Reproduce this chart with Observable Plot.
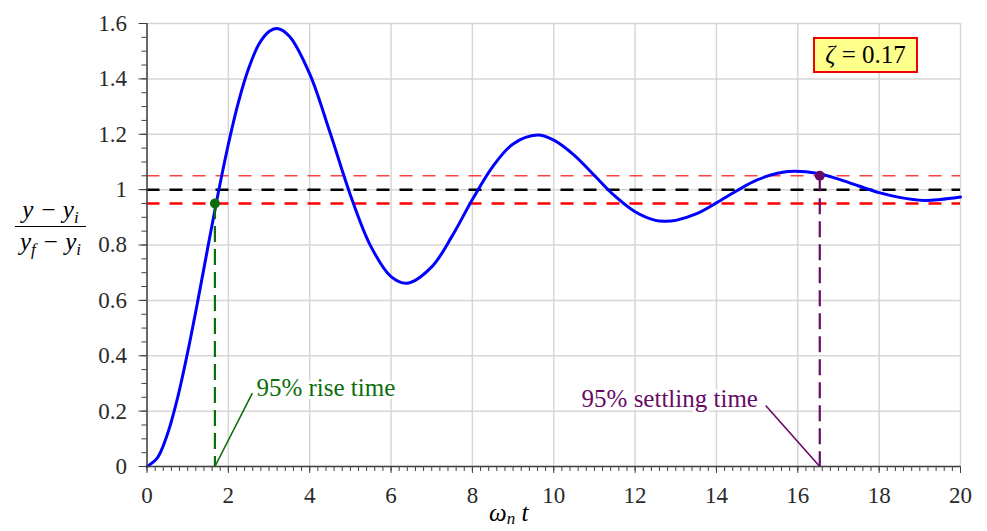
<!DOCTYPE html>
<html><head><meta charset="utf-8">
<script src="https://cdn.jsdelivr.net/npm/d3@7"></script>
<script src="https://cdn.jsdelivr.net/npm/@observablehq/plot@0.6"></script>
<style>
html,body{margin:0;padding:0;background:#fff;}
#wrap{position:relative;width:987px;height:531px;font-family:"Liberation Serif","Times New Roman",serif;}
.ov{position:absolute;white-space:nowrap;color:#000;font-family:"Liberation Serif","Times New Roman",serif;}
.ov sub{font-size:0.68em;vertical-align:-0.28em;line-height:0;}
</style></head><body>
<div id="wrap"></div>
<script>
// response curve: time (ωn t) and normalized output
const tValues = [0,0.25,0.5,0.75,1,1.25,1.5,1.75,2,2.25,2.5,2.75,3,3.2,3.5,4,4.5,5,5.5,6,6.4,7,7.5,8,8.5,9,9.6,10,10.5,11,11.5,12,12.5,12.75,13,13.5,14,14.5,15,15.5,15.9,16.5,17,17.5,18,18.5,19.1,19.5,20];
const yValues = [0,0.030,0.116,0.247,0.413,0.599,0.795,0.987,1.164,1.317,1.438,1.525,1.571,1.582,1.554,1.418,1.206,0.981,0.796,0.686,0.662,0.721,0.832,0.964,1.083,1.165,1.197,1.179,1.125,1.051,0.977,0.920,0.889,0.886,0.889,0.912,0.952,0.996,1.035,1.059,1.066,1.058,1.038,1.013,0.989,0.972,0.961,0.964,0.973];
const xMajorTicks = [0,2,4,6,8,10,12,14,16,18,20];
const yMajorTicks = [0,0.2,0.4,0.6,0.8,1,1.2,1.4,1.6];
const xMinorTicks = [0,0.2,0.4,0.6,0.8,1,1.2,1.4,1.6,1.8,2,2.2,2.4,2.6,2.8,3,3.2,3.4,3.6,3.8,4,4.2,4.4,4.6,4.8,5,5.2,5.4,5.6,5.8,6,6.2,6.4,6.6,6.8,7,7.2,7.4,7.6,7.8,8,8.2,8.4,8.6,8.8,9,9.2,9.4,9.6,9.8,10,10.2,10.4,10.6,10.8,11,11.2,11.4,11.6,11.8,12,12.2,12.4,12.6,12.8,13,13.2,13.4,13.6,13.8,14,14.2,14.4,14.6,14.8,15,15.2,15.4,15.6,15.8,16,16.2,16.4,16.6,16.8,17,17.2,17.4,17.6,17.8,18,18.2,18.4,18.6,18.8,19,19.2,19.4,19.6,19.8,20];
const yMinorTicks = [0,0.05,0.1,0.15,0.2,0.25,0.3,0.35,0.4,0.45,0.5,0.55,0.6,0.65,0.7,0.75,0.8,0.85,0.9,0.95,1,1.05,1.1,1.15,1.2,1.25,1.3,1.35,1.4,1.45,1.5,1.55,1.6];
const bandLower = 0.95, finalValue = 1, bandUpper = 1.05;
const riseTime = 1.67, riseLevel = 0.95;
const settlingTime = 16.54, settlingLevel = 1.05;
const riseLabel = "95% rise time", settlingLabel = "95% settling time";
const riseLabelPos = {x: 2.69, y: 0.285, lx: 2.59, ly: 0.265};
const settlingLabelPos = {x: 15.02, y: 0.242, lx: 15.21, ly: 0.22};
const zetaText = "0.17";

const curveData = tValues.map((t, i) => ({t, y: yValues[i]}));
const green = "#0b6e0b", purple = "#660a66";
const hdash = "13,10", vdash = "16,7";

const chart = Plot.plot({
  width: 987, height: 531,
  marginLeft: 146.5, marginRight: 27, marginTop: 23, marginBottom: 65,
  x: {domain: [0, 20]},
  y: {domain: [0, 1.6]},
  style: {fontFamily: '"Liberation Serif","Times New Roman",serif', fontSize: "23px", color: "#2a2a2a", background: "white", overflow: "visible"},
  marks: [
    Plot.gridX(xMajorTicks, {stroke: "#d6d6d6", strokeOpacity: 1, strokeWidth: 1.5}),
    Plot.gridY(yMajorTicks, {stroke: "#d6d6d6", strokeOpacity: 1, strokeWidth: 1.5}),
    Plot.ruleY([bandUpper], {stroke: "#ff4040", strokeWidth: 1.4, strokeDasharray: hdash}),
    Plot.ruleY([finalValue], {stroke: "#000", strokeWidth: 2.5, strokeDasharray: hdash}),
    Plot.ruleY([bandLower], {stroke: "#ff0000", strokeWidth: 2.5, strokeDasharray: hdash}),
    Plot.line(curveData, {x: "t", y: "y", stroke: "#0000ff", strokeWidth: 3, curve: "catmull-rom"}),
    Plot.ruleX([riseTime], {y1: riseLevel, y2: 0, stroke: green, strokeWidth: 2.2, strokeDasharray: vdash}),
    Plot.ruleX([settlingTime], {y1: settlingLevel, y2: 0, stroke: purple, strokeWidth: 2.2, strokeDasharray: vdash}),
    Plot.link([{x1: riseTime, y1: 0, x2: riseLabelPos.lx, y2: riseLabelPos.ly}], {x1: "x1", y1: "y1", x2: "x2", y2: "y2", stroke: green, strokeWidth: 1.6}),
    Plot.link([{x1: settlingTime, y1: 0, x2: settlingLabelPos.lx, y2: settlingLabelPos.ly}], {x1: "x1", y1: "y1", x2: "x2", y2: "y2", stroke: purple, strokeWidth: 1.6}),
    Plot.text([riseLabelPos], {x: "x", y: "y", text: () => riseLabel, textAnchor: "start", fill: green, fontSize: 25, stroke: "white", strokeWidth: 6}),
    Plot.text([settlingLabelPos], {x: "x", y: "y", text: () => settlingLabel, textAnchor: "end", fill: purple, fontSize: 25, stroke: "white", strokeWidth: 6}),
    Plot.dot([{x: riseTime, y: riseLevel}], {x: "x", y: "y", r: 5, fill: green}),
    Plot.dot([{x: settlingTime, y: settlingLevel}], {x: "x", y: "y", r: 5, fill: purple}),
    Plot.ruleX([0], {stroke: "#404040", strokeWidth: 1.5}),
    Plot.ruleY([0], {stroke: "#404040", strokeWidth: 1.5}),
    Plot.axisX({ticks: xMinorTicks, tickSize: 5, tickFormat: () => "", label: null, stroke: "#404040"}),
    Plot.axisX({ticks: xMajorTicks, tickSize: 7, tickPadding: 13, tickFormat: d => String(d), label: null, stroke: "#404040"}),
    Plot.axisY({ticks: yMinorTicks, tickSize: 5, tickFormat: () => "", label: null, stroke: "#404040"}),
    Plot.axisY({ticks: yMajorTicks, tickSize: 8, tickPadding: 12, tickFormat: d => String(d), label: null, stroke: "#404040"})
  ]
});

const wrap = document.getElementById("wrap");
wrap.appendChild(chart);

// y-axis label (fraction)
const ylab = document.createElement("div");
ylab.className = "ov";
ylab.style.cssText = "left:15px;top:196px;width:71px;text-align:center;font-size:25px;line-height:28px;font-style:italic;";
ylab.innerHTML = '<div style="border-bottom:1.5px solid #000;padding-bottom:2px">y − y<sub>i</sub></div><div style="padding-top:1px">y<sub>f</sub> − y<sub>i</sub></div>';
wrap.appendChild(ylab);

// x-axis label
const xlab = document.createElement("div");
xlab.className = "ov";
xlab.style.cssText = "left:489px;top:500px;font-size:25px;line-height:26px;font-style:italic;";
xlab.innerHTML = 'ω<sub style="vertical-align:-0.18em">n</sub> t';
wrap.appendChild(xlab);

// zeta box
const zbox = document.createElement("div");
zbox.className = "ov";
zbox.style.cssText = "left:813px;top:37px;width:101px;height:32px;border:2px solid #f00000;background:#ffff8c;text-align:center;font-size:25px;line-height:32px;";
zbox.innerHTML = '<i>ζ</i> = ' + zetaText;
wrap.appendChild(zbox);
</script>
</body></html>
